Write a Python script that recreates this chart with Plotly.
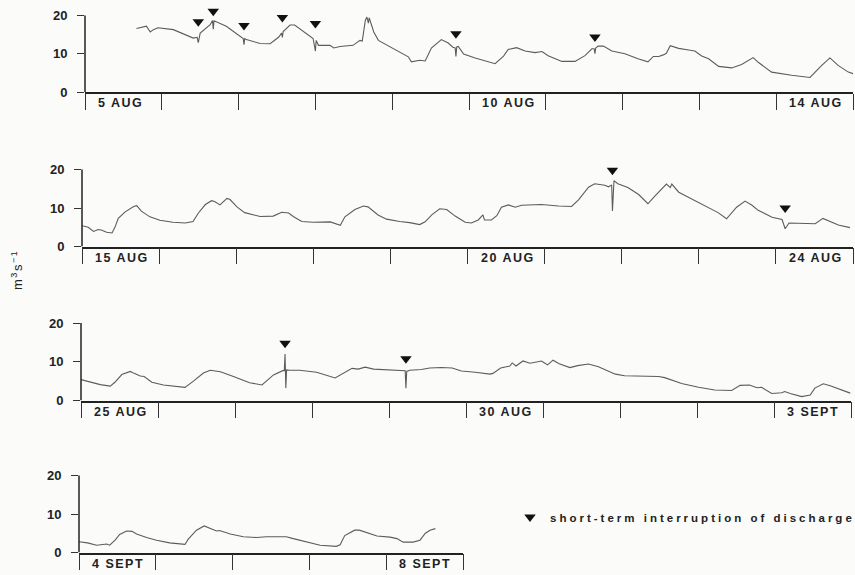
import plotly.graph_objects as go

# ---------------- data (days from panel start, discharge m3/s) ----------------
# Panel 1: 5 Aug - 14 Aug
p1_days = [0.67, 0.76, 0.80, 0.85, 0.89, 0.95, 1.15, 1.41, 1.46, 1.475, 1.49, 1.50, 1.63, 1.66, 1.67, 1.68,
           1.84, 2.02, 2.06, 2.07, 2.08, 2.10, 2.28, 2.41, 2.52, 2.56, 2.57, 2.58, 2.67, 2.73, 2.89, 2.97,
           3.00, 3.01, 3.04, 3.19, 3.24, 3.32, 3.49, 3.58, 3.61, 3.65, 3.67, 3.69, 3.70, 3.76, 3.82, 4.10,
           4.21, 4.25, 4.36, 4.43, 4.51, 4.64, 4.73, 4.79, 4.82, 4.83, 4.84, 4.86, 4.93, 5.08, 5.34, 5.45,
           5.51, 5.62, 5.73, 5.86, 5.95, 6.03, 6.21, 6.38, 6.51, 6.60, 6.63, 6.64, 6.65, 6.68, 6.75, 6.86,
           7.03, 7.20, 7.33, 7.40, 7.47, 7.53, 7.57, 7.62, 7.73, 7.86, 7.94, 8.03, 8.12, 8.25, 8.42, 8.55,
           8.70, 8.77, 8.94, 9.20, 9.44, 9.59, 9.70, 9.81, 9.94, 10.0]
p1_flow = [16.6, 16.9, 17.2, 15.7, 16.3, 16.8, 16.3, 14.1, 14.3, 12.9, 15.0, 15.4, 17.6, 18.7, 16.4, 18.6,
           17.2, 14.6, 14.0, 12.4, 14.0, 13.7, 12.7, 12.6, 14.3, 15.4, 14.3, 15.8, 17.5, 17.5, 15.1, 14.0,
           10.7, 13.5, 12.2, 12.2, 11.5, 11.9, 12.2, 13.5, 13.3, 18.7, 19.6, 18.0, 19.4, 15.7, 13.5, 10.5,
           9.2, 7.9, 8.3, 8.1, 11.5, 13.7, 12.8, 11.7, 11.5, 9.3, 11.8, 11.9, 9.9, 8.9, 7.4, 9.4,
           11.1, 11.6, 10.7, 10.3, 10.6, 9.5, 8.0, 8.0, 9.5, 11.3, 11.3, 10.0, 11.5, 12.0, 12.0, 10.7,
           10.0, 8.7, 7.9, 9.3, 9.3, 9.7, 10.1, 12.1, 11.4, 11.0, 10.7, 9.4, 8.7, 6.7, 6.3, 7.2,
           9.0, 7.7, 5.2, 4.4, 3.8, 6.9, 8.9, 6.9, 5.2, 4.8]
p1_int_days = [1.475, 1.67, 2.07, 2.57, 3.00, 4.83, 6.64]
p1_int_mark = [18.4, 21.1, 17.4, 19.5, 17.9, 15.2, 14.4]
p1_labels = ["5 AUG", "10 AUG", "14 AUG"]
p1_label_days = [0, 5, 9]

# Panel 2: 15 Aug - 24 Aug
p2_days = [0, 0.08, 0.15, 0.21, 0.25, 0.32, 0.39, 0.43, 0.47, 0.56, 0.67, 0.71, 0.77, 0.88, 1.01, 1.18,
           1.34, 1.44, 1.51, 1.60, 1.68, 1.72, 1.79, 1.88, 1.92, 2.01, 2.11, 2.31, 2.48, 2.59, 2.68, 2.74,
           2.85, 3.00, 3.22, 3.30, 3.35, 3.41, 3.47, 3.54, 3.65, 3.71, 3.84, 3.95, 4.12, 4.25, 4.38, 4.45,
           4.54, 4.64, 4.73, 4.84, 4.97, 5.05, 5.14, 5.20, 5.22, 5.31, 5.38, 5.44, 5.53, 5.62, 5.70, 5.96,
           6.18, 6.35, 6.44, 6.57, 6.65, 6.78, 6.83, 6.87, 6.88, 6.89, 6.90, 6.95, 7.08, 7.22, 7.34, 7.43,
           7.54, 7.58, 7.63, 7.65, 7.74, 7.91, 8.08, 8.25, 8.36, 8.49, 8.60, 8.69, 8.77, 8.95, 9.08, 9.12,
           9.17, 9.43, 9.51, 9.61, 9.67, 9.81, 9.96]
p2_flow = [5.4, 5.0, 3.9, 4.4, 4.3, 3.7, 3.5, 5.1, 7.3, 9.0, 10.4, 10.6, 9.2, 7.7, 6.8, 6.3,
           6.1, 6.5, 8.7, 10.9, 11.9, 11.7, 10.8, 12.5, 12.2, 10.3, 8.8, 7.8, 7.9, 8.9, 8.7, 7.8,
           6.5, 6.3, 6.4, 5.9, 5.5, 7.7, 8.5, 9.6, 10.5, 10.3, 8.2, 7.1, 6.5, 6.2, 5.7, 6.4,
           8.3, 9.8, 9.6, 7.9, 6.3, 6.1, 6.9, 8.2, 6.9, 6.9, 8.0, 10.2, 10.8, 10.2, 10.7, 10.9,
           10.5, 10.4, 12.1, 15.4, 16.3, 15.9, 15.5, 16.0, 9.2, 16.5, 17.1, 16.3, 15.3, 13.5, 11.1, 13.1,
           15.5, 16.2, 15.3, 16.2, 14.1, 12.3, 10.6, 8.8, 7.2, 10.2, 11.8, 10.7, 9.4, 7.6, 7.0, 4.6,
           6.1, 5.8, 5.9, 7.3, 6.8, 5.6, 4.9]
p2_int_days = [6.88, 9.12]
p2_int_mark = [19.8, 10.0]
p2_labels = ["15 AUG", "20 AUG", "24 AUG"]
p2_label_days = [0, 5, 9]

# Panel 3: 25 Aug - 3 Sept
p3_days = [0, 0.12, 0.25, 0.38, 0.44, 0.53, 0.64, 0.69, 0.77, 0.82, 0.92, 1.07, 1.24, 1.35, 1.46, 1.59,
           1.68, 1.81, 1.98, 2.19, 2.35, 2.43, 2.50, 2.62, 2.64, 2.65, 2.66, 2.67, 2.71, 2.84, 3.06, 3.30,
           3.41, 3.52, 3.60, 3.69, 3.80, 4.01, 4.16, 4.21, 4.22, 4.23, 4.27, 4.42, 4.53, 4.68, 4.82, 4.94,
           5.12, 5.31, 5.35, 5.45, 5.57, 5.60, 5.65, 5.74, 5.83, 5.98, 6.02, 6.06, 6.13, 6.21, 6.35, 6.45,
           6.59, 6.72, 6.94, 7.06, 7.50, 7.58, 7.80, 8.02, 8.23, 8.45, 8.56, 8.68, 8.78, 8.84, 8.97, 9.10,
           9.14, 9.21, 9.36, 9.47, 9.53, 9.64, 9.73, 9.88, 9.99]
p3_flow = [5.4, 4.7, 4.1, 3.7, 4.7, 6.7, 7.5, 7.0, 6.3, 6.2, 4.7, 4.0, 3.7, 3.4, 5.0, 7.1,
           7.8, 7.4, 6.2, 4.6, 4.0, 5.3, 6.6, 7.7, 7.7, 12.0, 3.2, 7.9, 7.8, 7.8, 7.3, 5.8,
           7.0, 8.3, 8.1, 8.6, 8.1, 7.9, 7.7, 7.7, 3.2, 7.5, 7.8, 8.0, 8.4, 8.5, 8.4, 7.6,
           7.3, 6.8, 7.0, 8.4, 8.9, 9.7, 8.9, 10.2, 9.6, 10.2, 9.7, 9.2, 10.4, 9.5, 8.5, 9.0,
           9.4, 8.7, 6.8, 6.4, 6.2, 5.9, 4.4, 3.4, 2.7, 2.6, 3.9, 4.0, 3.3, 3.4, 1.8, 2.0,
           2.3, 1.8, 1.0, 1.4, 3.2, 4.3, 3.8, 2.6, 1.9]
p3_int_days = [2.65, 4.22]
p3_int_mark = [14.8, 10.8]
p3_labels = ["25 AUG", "30 AUG", "3 SEPT"]
p3_label_days = [0, 5, 9]

# Panel 4: 4 Sept - 8 Sept
p4_days = [0, 0.08, 0.11, 0.23, 0.29, 0.36, 0.40, 0.47, 0.53, 0.62, 0.69, 0.75, 0.88, 1.01, 1.18, 1.38,
           1.42, 1.53, 1.63, 1.71, 1.79, 1.83, 1.97, 2.14, 2.31, 2.44, 2.70, 2.79, 2.96, 3.14, 3.35, 3.40,
           3.46, 3.59, 3.65, 3.75, 3.88, 4.05, 4.14, 4.22, 4.35, 4.44, 4.51, 4.57, 4.64]
p4_flow = [2.8, 2.6, 2.5, 1.9, 2.1, 2.2, 1.9, 3.2, 4.7, 5.6, 5.5, 4.8, 3.9, 3.2, 2.5, 2.1,
           3.4, 5.8, 6.9, 6.2, 5.6, 5.7, 4.8, 4.1, 3.9, 4.1, 4.1, 3.6, 2.8, 1.9, 1.6, 2.0,
           4.4, 5.8, 5.8, 5.1, 4.3, 4.0, 3.6, 2.7, 2.7, 3.2, 5.0, 5.8, 6.2]
p4_int_days = []
p4_int_mark = []
p4_labels = ["4 SEPT", "8 SEPT"]
p4_label_days = [0, 4]

y_ticks = [0, 10, 20]
y_title = "m<sup>3</sup>s<sup>\u22121</sup>"
legend_text = "short-term interruption of discharge"

# ---------------- layout geometry (pixels) ----------------
W, H = 855, 575
Y_AXIS_TOP = 20      # axis line drawn up to this value
Y_VIEW_TOP = 21.8    # head-room so markers above 20 stay visible
panels = [
    dict(days=p1_days, flow=p1_flow, idays=p1_int_days, imark=p1_int_mark,
         labels=p1_labels, ldays=p1_label_days, x0=85, x1=853, top=15.5, bottom=92, ndays=10),
    dict(days=p2_days, flow=p2_flow, idays=p2_int_days, imark=p2_int_mark,
         labels=p2_labels, ldays=p2_label_days, x0=82, x1=853, top=169.5, bottom=246.5, ndays=10),
    dict(days=p3_days, flow=p3_flow, idays=p3_int_days, imark=p3_int_mark,
         labels=p3_labels, ldays=p3_label_days, x0=81, x1=851, top=323, bottom=400.5, ndays=10),
    dict(days=p4_days, flow=p4_flow, idays=p4_int_days, imark=p4_int_mark,
         labels=p4_labels, ldays=p4_label_days, x0=79, x1=463, top=475.5, bottom=552.5, ndays=5),
]

FONT = "Liberation Sans, Arial, sans-serif"
INK = "#222222"

fig = go.Figure()
annotations = []
shapes = []
layout_axes = {}
legend_shown = False

for i, p in enumerate(panels, start=1):
    xa = "x" if i == 1 else f"x{i}"
    ya = "y" if i == 1 else f"y{i}"
    fig.add_trace(go.Scatter(
        x=p["days"], y=p["flow"], xaxis=xa, yaxis=ya, mode="lines",
        line=dict(color="#5c5c5c", width=1.1), showlegend=False, hoverinfo="skip"))
    if p["idays"]:
        fig.add_trace(go.Scatter(
            x=p["idays"], y=p["imark"], xaxis=xa, yaxis=ya, mode="markers",
            marker=dict(symbol="triangle-down", size=10, color="#111111"),
            cliponaxis=False, name=legend_text, showlegend=not legend_shown))
        legend_shown = True

    px_per_unit = (p["bottom"] - p["top"]) / Y_AXIS_TOP
    view_top = p["top"] - (Y_VIEW_TOP - Y_AXIS_TOP) * px_per_unit

    xkey = "xaxis" if i == 1 else f"xaxis{i}"
    ykey = "yaxis" if i == 1 else f"yaxis{i}"
    layout_axes[xkey] = dict(
        domain=[p["x0"] / W, p["x1"] / W], anchor=ya, range=[0, p["ndays"]],
        showline=True, linecolor=INK, linewidth=1.5, ticks="outside", ticklen=16,
        tickwidth=1.3, tickcolor="#333333", tickvals=list(range(p["ndays"] + 1)),
        showticklabels=False, showgrid=False, zeroline=False, fixedrange=True, automargin=False)
    layout_axes[ykey] = dict(
        domain=[1 - p["bottom"] / H, 1 - view_top / H], anchor=xa, range=[0, Y_VIEW_TOP],
        showline=False, ticks="outside", ticklen=7,
        tickwidth=1.3, tickcolor="#333333", tickvals=y_ticks,
        tickfont=dict(family=FONT, size=13, color=INK, weight="bold"),
        ticklabelstandoff=7, showgrid=False, zeroline=False, fixedrange=True, automargin=False)
    # vertical axis line from 0 up to 20 only
    shapes.append(dict(type="line", xref=f"{xa} domain", yref=ya, x0=0, x1=0,
                       y0=0, y1=Y_AXIS_TOP, line=dict(color=INK, width=1.5), layer="above"))

    for lab, d in zip(p["labels"], p["ldays"]):
        annotations.append(dict(
            text=lab, x=d, y=0, xref=xa, yref=ya, xanchor="left", yanchor="middle",
            xshift=11, yshift=-11, align="left", showarrow=False,
            font=dict(family=FONT, size=12.5, color=INK, weight="bold")))

annotations.append(dict(
    text=y_title, x=17 / W, y=1 - 274 / H, xref="paper", yref="paper", textangle=-90,
    showarrow=False, xanchor="center", yanchor="middle", align="left",
    font=dict(family=FONT, size=13, color=INK)))

fig.update_layout(
    width=W, height=H, margin=dict(l=0, r=0, t=0, b=0),
    paper_bgcolor="#fbfbfa", plot_bgcolor="rgba(0,0,0,0)",
    annotations=annotations, shapes=shapes,
    showlegend=True,
    legend=dict(x=510 / W, y=1 - 517 / H, xanchor="left", yanchor="middle",
                bgcolor="rgba(0,0,0,0)", borderwidth=0,
                font=dict(family=FONT, size=11.5, color=INK, weight="bold")),
    **layout_axes)

post = """
document.documentElement.style.margin = '0';
document.body.style.margin = '0';
document.body.style.padding = '0';
document.body.style.background = '#fbfbfa';
var gd = document.getElementById('{plot_id}');
gd.querySelectorAll('.annotation-text').forEach(function(t){ t.style.letterSpacing = '1.5px'; });
gd.querySelectorAll('.legendtext').forEach(function(t){ t.style.letterSpacing = '3px'; });
gd.querySelectorAll('.annotation, .annotation *, .legend, .legend *').forEach(function(e){ e.removeAttribute('clip-path'); });
"""

fig.write_html("out.html", post_script=post, config={"displayModeBar": False})
